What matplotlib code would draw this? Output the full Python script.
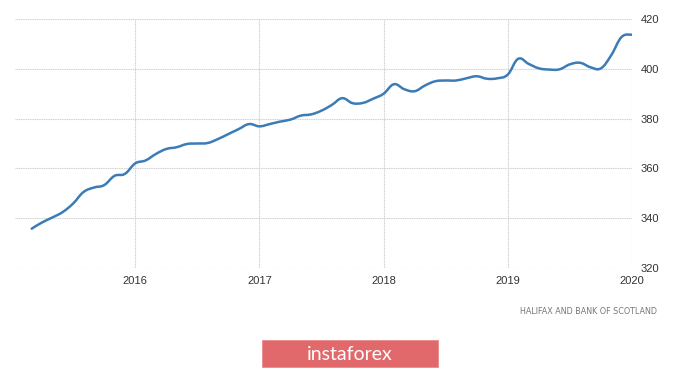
import numpy as np
import matplotlib
matplotlib.use("Agg")
import matplotlib.pyplot as plt
from matplotlib.patches import Rectangle, PathPatch
from matplotlib.path import Path

# monthly house price index (thousand GBP), Mar 2015 .. Jan 2020
start_year = 2015
start_month = 3
values = [
    335.8, 338.3, 340.3, 342.5, 345.9, 350.5, 352.3, 353.3, 357.0, 357.8,
    362.0, 363.2, 365.8, 367.8, 368.5, 369.8, 370.0, 370.2, 371.8, 373.8, 375.8, 377.8,
    376.9, 377.8, 378.8, 379.6, 381.2, 381.7, 383.2, 385.5, 388.2, 386.2, 386.3, 388.0,
    390.0, 393.8, 391.8, 391.0, 393.3, 395.0, 395.3, 395.3, 396.2, 397.0, 396.0, 396.2,
    397.7, 404.0, 402.0, 400.2, 399.7, 399.8, 401.8, 402.4, 400.6, 400.2, 405.5, 412.8,
    413.7,
]
year_ticks = [2016, 2017, 2018, 2019, 2020]
value_ticks = [320, 340, 360, 380, 400, 420]
source_text = "HALIFAX AND BANK OF SCOTLAND"
brand_text = "instaforex"

x = start_year + (start_month - 1 + np.arange(len(values))) / 12.0
y = np.array(values)


def smooth_path(xs, ys, k=0.2):
    # cubic bezier through the data points (catmull-rom style handles)
    verts = [(xs[0], ys[0])]
    codes = [Path.MOVETO]
    n = len(xs)
    for i in range(n - 1):
        p0 = i - 1 if i > 0 else i
        p3 = i + 2 if i + 2 < n else i + 1
        c1 = (xs[i] + (xs[i + 1] - xs[p0]) * k, ys[i] + (ys[i + 1] - ys[p0]) * k)
        c2 = (xs[i + 1] - (xs[p3] - xs[i]) * k, ys[i + 1] - (ys[p3] - ys[i]) * k)
        verts += [c1, c2, (xs[i + 1], ys[i + 1])]
        codes += [Path.CURVE4] * 3
    return Path(verts, codes)


fig = plt.figure(figsize=(7, 3.7), dpi=100)
ax = fig.add_axes([15 / 700, 1 - 268 / 370, 617 / 700, 249 / 370])

ax.add_patch(PathPatch(smooth_path(x, y), facecolor="none", edgecolor="#3b7cb6",
                       lw=1.8, capstyle="round", joinstyle="round", zorder=3))

ax.set_xlim(2015.032, 2020.0)
ax.set_ylim(320, 420)
ax.set_xticks(year_ticks)
ax.set_yticks(value_ticks)
ax.yaxis.tick_right()
ax.grid(True, color="#d0d0d0", linestyle=(0, (1, 0.6)), lw=0.8)
for s in ax.spines.values():
    s.set_visible(False)
ax.tick_params(length=0, labelsize=8, labelcolor="#333333", pad=6)
for lab in ax.get_xticklabels() + ax.get_yticklabels():
    lab.set_family("Liberation Sans")

fig.text(588 / 700, 1 - 312 / 370, source_text, ha="center", va="center",
         fontsize=5.8, color="#777777", family="DejaVu Sans")

btn = Rectangle((262 / 700, 1 - 367 / 370), 176 / 700, 27 / 370,
                transform=fig.transFigure, facecolor="#e2696b",
                edgecolor="#e98a8b", lw=0.6, zorder=1)
fig.add_artist(btn)
fig.text(350 / 700, 1 - 354 / 370, brand_text, ha="center", va="center",
         fontsize=14, color="white", family="Lato", zorder=5)

fig.savefig("out.png", dpi=100)
